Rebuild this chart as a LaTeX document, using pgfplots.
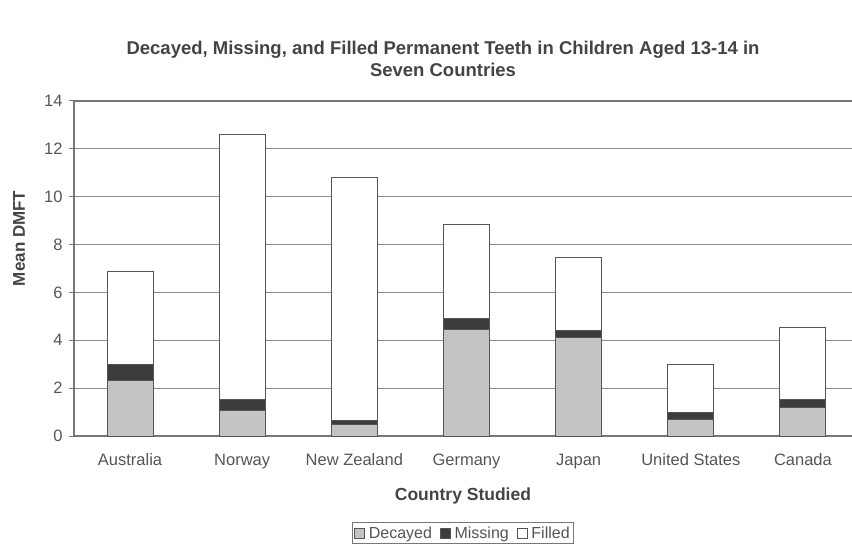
\documentclass[border=0pt]{standalone}
\usepackage{fontspec}
\setmainfont{Liberation Sans}
\usepackage{pgfplots}
\pgfplotsset{compat=1.18}
\definecolor{decayed}{HTML}{C4C4C4}
\definecolor{missing}{HTML}{3C3C3C}
\definecolor{gridc}{HTML}{8C8C8C}
\definecolor{axc}{HTML}{777777}
\definecolor{txt}{HTML}{555555}
\definecolor{ttl}{HTML}{444444}
\begin{document}
\begin{tikzpicture}
\begin{axis}[
  at={(74pt,116pt)}, anchor=south west,
  scale only axis, width=785pt, height=335pt,
  ybar stacked, bar width=46pt,
  xmin=-0.5, xmax=6.5, ymin=0, ymax=14,
  xtick={0,...,6},
  xticklabels={Australia,Norway,New Zealand,Germany,Japan,United States,Canada},
  x tick style={draw=none},
  extra x ticks={0.5,1.5,2.5,3.5,4.5,5.5},
  extra x tick labels={},
  extra x tick style={tick style={draw=axc, line width=1pt}, major tick length=4pt, tick align=outside, grid=none},
  ytick={0,2,...,14},
  ymajorgrids,
  grid style={draw=gridc, line width=1.1pt},
  y tick style={draw=axc, line width=1pt},
  major tick length=5pt,
  tick align=outside,
  tick pos=left,
  axis line style={draw=axc, line width=1.2pt},
  ticklabel style={font=\fontsize{16.5}{19}\selectfont, text=txt},
  xticklabel style={yshift=-9pt, text height=12pt, text depth=3pt, anchor=north},
  yticklabel style={xshift=-3pt},
  /pgf/number format/assume math mode=true,
  ylabel={Mean DMFT},
  ylabel style={font=\bfseries\fontsize{17}{20}\selectfont, text=ttl, at={(axis description cs:-0.07,0.59)}, anchor=center},
  xlabel={Country Studied},
  xlabel style={font=\bfseries\fontsize{17.5}{20}\selectfont, text=ttl, at={(axis description cs:0.4955,-0.178)}, anchor=center},
  legend columns=3,
  legend style={at={(axis description cs:0.4955,-0.257)}, anchor=north, draw=axc, line width=0.8pt,
    font=\fontsize{16}{19}\selectfont, text=txt, inner sep=2pt,
    /tikz/every odd column/.append style={column sep=2pt},
    /tikz/every even column/.append style={column sep=6pt}},
  legend image code/.code={\draw[#1, line width=0.6pt] (0pt,-5pt) rectangle (10pt,5pt);},
]
\addplot[fill=decayed, draw=txt, line width=1pt] coordinates {(0,2.34) (1,1.06) (2,0.46) (3,4.46) (4,4.12) (5,0.70) (6,1.20)};
\addplot[fill=missing, draw=txt, line width=1pt] coordinates {(0,0.66) (1,0.47) (2,0.18) (3,0.43) (4,0.28) (5,0.29) (6,0.33)};
\addplot[fill=white, draw=txt, line width=1pt] coordinates {(0,3.87) (1,11.05) (2,10.16) (3,3.93) (4,3.07) (5,1.98) (6,3.00)};
\legend{Decayed,Missing,Filled}
\end{axis}
\node[font=\bfseries\fontsize{18.5}{22}\selectfont, align=center, text=ttl] at (443pt,493pt)
  {Decayed, Missing, and Filled Permanent Teeth in Children Aged 13-14 in\\Seven Countries};
\pgfresetboundingbox
\path (0pt,0pt) rectangle (852pt,552pt);
\end{tikzpicture}
\end{document}
